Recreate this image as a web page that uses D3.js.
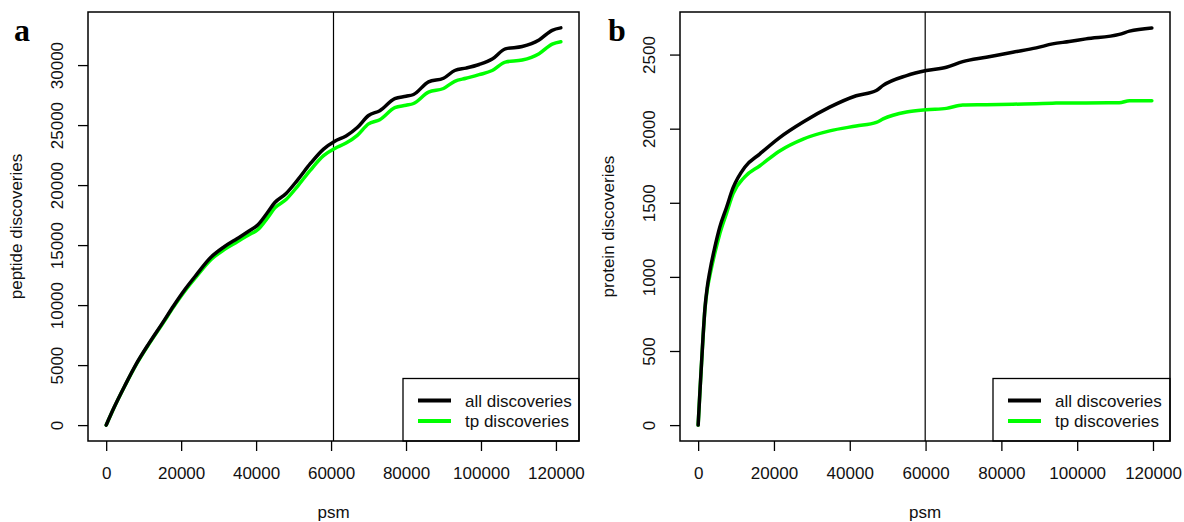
<!DOCTYPE html>
<meta charset="utf-8">
<style type="text/css">
	body { margin: 0; background: #fff; }
	svg text { font-family: "Liberation Sans", Arial, sans-serif; font-size: 17px; fill: #111; }
	.panel-letter { font-family: "Liberation Serif", "Times New Roman", serif; font-weight: bold; font-size: 32px; fill: #000; }
</style>
<body></body>
<script src="https://d3js.org/d3.v7.min.js"></script>
<script>

	// panel a: peptide discoveries
	var pepPsm = [0, 2000, 5000, 8000, 11500, 15000, 18000, 21000, 24000, 28000, 31500, 35000, 38000, 40500,
		43000, 45000, 48000, 51000, 54500, 58000, 61000, 64000, 67000, 70000, 73000, 77000, 80000, 82000,
		86000, 90000, 93000, 96000, 99500, 103000, 106500, 111000, 115500, 119000, 121300];
	var pepAll = [0, 1400, 3300, 5080, 6850, 8500, 9950, 11300, 12500, 14000, 14860, 15550, 16150, 16700,
		17700, 18550, 19300, 20400, 21800, 23000, 23650, 24100, 24800, 25800, 26200, 27200, 27400, 27550,
		28600, 28900, 29550, 29750, 30050, 30500, 31350, 31550, 32100, 32900, 33100];
	var pepTp = [0, 1390, 3280, 5040, 6800, 8430, 9860, 11180, 12350, 13800, 14630, 15280, 15850, 16300,
		17250, 18100, 18800, 19880, 21250, 22450, 23050, 23500, 24150, 25100, 25450, 26450, 26650, 26800,
		27750, 28050, 28650, 28900, 29200, 29550, 30250, 30420, 30950, 31750, 31950];
	var pepCut = 60650;
	var pepYTicks = [0, 5000, 10000, 15000, 20000, 25000, 30000];

	// panel b: protein discoveries
	var protPsm = [0, 500, 900, 1300, 1800, 2400, 3100, 4400, 5700, 7500, 9200, 12300, 16300, 21500, 27700,
		34700, 41700, 47000, 48800, 55000, 60200, 65500, 69800, 76000, 83000, 89200, 93500, 97900, 102300,
		111100, 113800, 119700];
	var protAll = [0, 240, 420, 600, 790, 930, 1040, 1200, 1335, 1470, 1600, 1740, 1830, 1940, 2045,
		2145, 2222, 2258, 2292, 2358, 2392, 2414, 2452, 2482, 2516, 2545, 2572, 2588, 2606,
		2636, 2658, 2680];
	var protTp = [0, 240, 420, 595, 785, 915, 1010, 1160, 1290, 1430, 1560, 1675, 1750, 1850, 1930,
		1985, 2018, 2042, 2066, 2112, 2128, 2137, 2160, 2162, 2165, 2169, 2172, 2174, 2174,
		2175, 2189, 2189];
	var protCut = 59900;
	var protYTicks = [0, 500, 1000, 1500, 2000, 2500];

	var xTicks = [0, 20000, 40000, 60000, 80000, 100000, 120000];
	var seriesNames = ["all discoveries", "tp discoveries"];
	var seriesColors = ["#000000", "#00ff00"];

	var svg = d3.select("body").append("svg")
		.attr("width", 1184)
		.attr("height", 522);

	// R style: extend range by 4% each side
	function rDomain(vals) {
		var ext = d3.extent(vals);
		var pad = (ext[1] - ext[0]) * 0.04;
		return [ext[0] - pad, ext[1] + pad];
	}

	function drawPanel(opt) {
		var left = opt.left, right = opt.right, top = 12, bottom = 441;

		var xScale = d3.scaleLinear().domain(rDomain(opt.psm)).range([left, right]);
		var yScale = d3.scaleLinear().domain(rDomain(opt.all.concat(opt.tp))).range([bottom, top]);

		var g = svg.append("g");

		// axes
		var xAxis = g.append("g")
			.attr("transform", "translate(0," + bottom + ")")
			.call(d3.axisBottom(xScale).tickValues(xTicks).tickSize(10).tickPadding(16).tickFormat(d3.format("d")));
		xAxis.select(".domain").remove();
		xAxis.selectAll("line").attr("stroke-width", 1.3);
		xAxis.selectAll("text").style("font-size", "17px").style("font-family", "Liberation Sans, Arial, sans-serif");

		var yAxis = g.append("g")
			.attr("transform", "translate(" + left + ",0)")
			.call(d3.axisLeft(yScale).tickValues(opt.yTicks).tickSize(10).tickFormat(d3.format("d")));
		yAxis.select(".domain").remove();
		yAxis.selectAll("line").attr("stroke-width", 1.3);
		yAxis.selectAll("text")
			.attr("x", null).attr("dy", null)
			.attr("transform", "translate(-25,0) rotate(-90)")
			.attr("text-anchor", "middle")
			.style("font-size", "17px").style("font-family", "Liberation Sans, Arial, sans-serif");

		// vertical cut line
		g.append("line")
			.attr("x1", xScale(opt.cut)).attr("x2", xScale(opt.cut))
			.attr("y1", top).attr("y2", bottom)
			.attr("stroke", "#000").attr("stroke-width", 1.2);

		// data lines (tp first, all on top)
		var line = d3.line()
			.curve(d3.curveMonotoneX)
			.x(function(d) { return xScale(d[0]); })
			.y(function(d) { return yScale(d[1]); });

		[opt.tp, opt.all].forEach(function(vals, i) {
			var pts = opt.psm.map(function(p, k) { return [p, vals[k]]; });
			g.append("path")
				.datum(pts)
				.attr("fill", "none")
				.attr("stroke", i == 0 ? seriesColors[1] : seriesColors[0])
				.attr("stroke-width", 3.5)
				.attr("stroke-linejoin", "round")
				.attr("stroke-linecap", "round")
				.attr("d", line);
		});

		// legend
		var lg = g.append("g");
		lg.append("rect")
			.attr("x", opt.legendX).attr("y", 378.5)
			.attr("width", right - opt.legendX).attr("height", bottom - 378.5)
			.attr("fill", "#fff").attr("stroke", "#000").attr("stroke-width", 1.3);
		seriesNames.forEach(function(name, i) {
			var yy = 400.5 + i * 20.5;
			lg.append("line")
				.attr("x1", opt.legendX + 15).attr("x2", opt.legendX + 48)
				.attr("y1", yy).attr("y2", yy)
				.attr("stroke", seriesColors[i]).attr("stroke-width", 4);
			lg.append("text")
				.attr("x", opt.legendX + 62).attr("y", yy + 6)
				.text(name);
		});

		// box
		g.append("rect")
			.attr("x", left).attr("y", top)
			.attr("width", right - left).attr("height", bottom - top)
			.attr("fill", "none").attr("stroke", "#000").attr("stroke-width", 1.5);

		// axis titles
		g.append("text")
			.attr("x", (left + right) / 2).attr("y", 518)
			.attr("text-anchor", "middle")
			.text("psm");
		g.append("text")
			.attr("transform", "translate(" + opt.yLabelX + "," + ((top + bottom) / 2) + ") rotate(-90)")
			.attr("text-anchor", "middle")
			.text(opt.yLabel);

		g.append("text")
			.attr("class", "panel-letter")
			.attr("x", opt.letterX).attr("y", 41)
			.text(opt.letter);
	}

	drawPanel({
		left: 88, right: 579, psm: pepPsm, all: pepAll, tp: pepTp, cut: pepCut,
		yTicks: pepYTicks, yLabel: "peptide discoveries", yLabelX: 22, legendX: 403,
		letter: "a", letterX: 14
	});
	drawPanel({
		left: 680, right: 1170, psm: protPsm, all: protAll, tp: protTp, cut: protCut,
		yTicks: protYTicks, yLabel: "protein discoveries", yLabelX: 614, legendX: 993,
		letter: "b", letterX: 608
	});

</script>
